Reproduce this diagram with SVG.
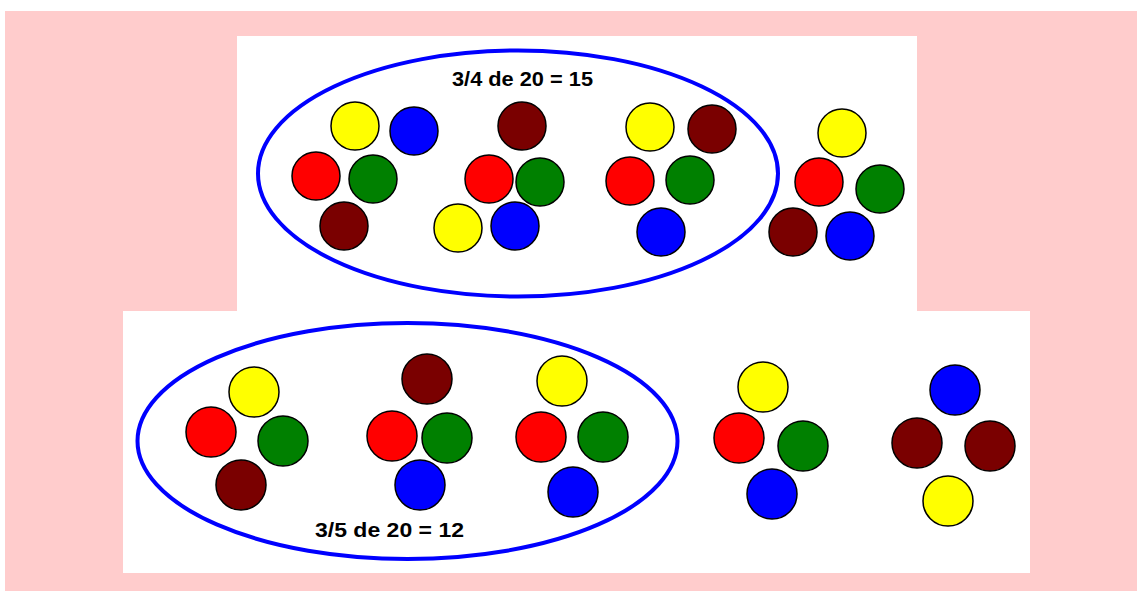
<svg xmlns="http://www.w3.org/2000/svg" width="1137" height="591" viewBox="0 0 1137 591">
<style>
.bg{fill:#FFCCCC}
.panel{fill:#FFFFFF}
.ring{fill:none;stroke:#0000FF;stroke-width:4}
circle{stroke:#000;stroke-width:1.5}
.y{fill:#FFFF00}.b{fill:#0000FF}.r{fill:#FF0000}.g{fill:#008000}.m{fill:#7A0000}
.lbl{font-family:"Liberation Sans",Arial,sans-serif;font-weight:bold;font-size:21px;fill:#000}
</style>
<rect class="bg" x="5" y="11" width="1132" height="580"/>
<rect class="panel" x="237" y="36" width="680" height="275"/>
<rect class="panel" x="123" y="311" width="907" height="262"/>
<g id="top-set">
<ellipse class="ring" cx="518" cy="173.5" rx="260" ry="123"/>
<text class="lbl" x="452" y="86" textLength="141" lengthAdjust="spacingAndGlyphs">3/4 de 20 = 15</text>
</g>
<g id="top-group1">
<circle class="y" cx="355" cy="126" r="24"/>
<circle class="b" cx="414" cy="131" r="24"/>
<circle class="r" cx="316" cy="176" r="24"/>
<circle class="g" cx="373" cy="179" r="24"/>
<circle class="m" cx="344" cy="226" r="24"/>
</g>
<g id="top-group2">
<circle class="m" cx="522" cy="126" r="24"/>
<circle class="r" cx="489" cy="179" r="24"/>
<circle class="g" cx="540" cy="182" r="24"/>
<circle class="y" cx="458" cy="228" r="24"/>
<circle class="b" cx="515" cy="226" r="24"/>
</g>
<g id="top-group3">
<circle class="y" cx="650" cy="127" r="24"/>
<circle class="m" cx="712" cy="129" r="24"/>
<circle class="r" cx="630" cy="181" r="24"/>
<circle class="g" cx="690" cy="180" r="24"/>
<circle class="b" cx="661" cy="232" r="24"/>
</g>
<g id="top-group4">
<circle class="y" cx="842" cy="133" r="24"/>
<circle class="r" cx="819" cy="182" r="24"/>
<circle class="g" cx="880" cy="189" r="24"/>
<circle class="m" cx="793" cy="232" r="24"/>
<circle class="b" cx="850" cy="236" r="24"/>
</g>
<g id="bottom-set">
<ellipse class="ring" cx="407.5" cy="441" rx="270" ry="118"/>
<text class="lbl" x="315" y="537" textLength="149" lengthAdjust="spacingAndGlyphs">3/5 de 20 = 12</text>
</g>
<g id="bottom-group1">
<circle class="y" cx="254" cy="392" r="25"/>
<circle class="r" cx="211" cy="432" r="25"/>
<circle class="g" cx="283" cy="441" r="25"/>
<circle class="m" cx="241" cy="485" r="25"/>
</g>
<g id="bottom-group2">
<circle class="m" cx="427" cy="379" r="25"/>
<circle class="r" cx="392" cy="436" r="25"/>
<circle class="g" cx="447" cy="438" r="25"/>
<circle class="b" cx="420" cy="485" r="25"/>
</g>
<g id="bottom-group3">
<circle class="y" cx="562" cy="381" r="25"/>
<circle class="r" cx="541" cy="437" r="25"/>
<circle class="g" cx="603" cy="437" r="25"/>
<circle class="b" cx="573" cy="492" r="25"/>
</g>
<g id="bottom-group4">
<circle class="y" cx="763" cy="387" r="25"/>
<circle class="r" cx="739" cy="438" r="25"/>
<circle class="g" cx="803" cy="446" r="25"/>
<circle class="b" cx="772" cy="494" r="25"/>
</g>
<g id="bottom-group5">
<circle class="b" cx="955" cy="390" r="25"/>
<circle class="m" cx="917" cy="443" r="25"/>
<circle class="m" cx="990" cy="446" r="25"/>
<circle class="y" cx="948" cy="501" r="25"/>
</g>
<g id="connectors"/>
</svg>
